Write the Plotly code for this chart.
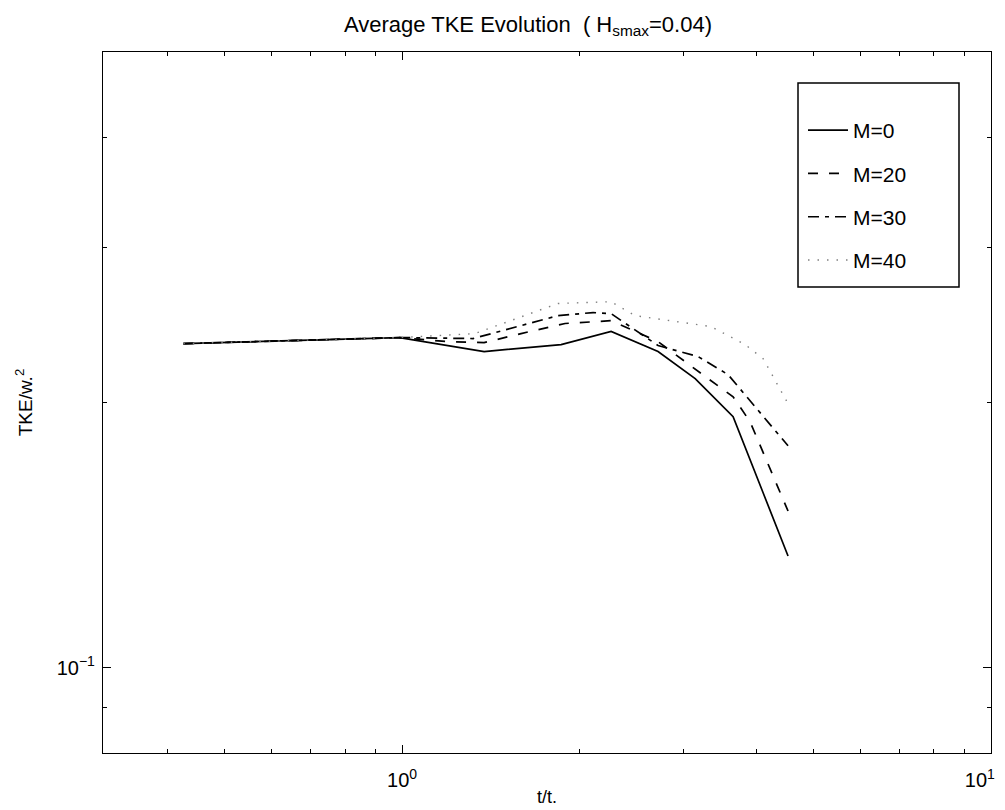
import plotly.graph_objects as go

# ---- data ----
t_m0 = [0.425, 0.99, 1.378, 1.862, 2.264, 2.72, 3.145, 3.648, 4.522]
tke_m0 = [0.2333, 0.2370, 0.2285, 0.2327, 0.2408, 0.2285, 0.2129, 0.1927, 0.1339]

t_m20 = [0.425, 0.99, 1.197, 1.378, 1.592, 1.891, 2.264, 2.72, 3.307, 3.648, 3.898, 4.522]
tke_m20 = [0.2333, 0.2370, 0.2345, 0.2339, 0.2395, 0.2459, 0.2477, 0.2345, 0.2129, 0.2030, 0.1902, 0.1506]

t_m30 = [0.425, 0.99, 1.32, 1.84, 2.11, 2.264, 2.72, 3.182, 3.577, 4.522]
tke_m30 = [0.2333, 0.2370, 0.2364, 0.2510, 0.2530, 0.2523, 0.2321, 0.2255, 0.2151, 0.1786]

t_m40 = [0.425, 0.99, 1.33, 1.84, 2.264, 2.487, 3.346, 3.823, 4.102, 4.522]
tke_m40 = [0.2333, 0.2370, 0.2395, 0.2591, 0.2603, 0.2510, 0.2439, 0.2327, 0.2243, 0.1994]

series_names = ["M=0", "M=20", "M=30", "M=40"]

x_major = [1, 10]
x_major_text = ["10<sup>0</sup>", "10<sup>1</sup>\u00a0\u00a0\u00a0\u00a0"]
x_minor = [0.4, 0.5, 0.6, 0.7, 0.8, 0.9, 2, 3, 4, 5, 6, 7, 8, 9]
y_major = [0.1]
y_major_text = ["10<sup>\u22121</sup>"]
y_minor = [0.09, 0.2, 0.3, 0.4]

FONT = "Liberation Sans, Arial, sans-serif"

styles = [
    dict(color="black", width=1.7, dash="solid"),
    dict(color="black", width=1.7, dash="10px,11px"),
    dict(color="black", width=1.7, dash="11px,6px,4px,6px"),
    dict(color="#808080", width=1.4, dash="1.5px,8px"),
]

fig = go.Figure()
for i, (xs, ys) in enumerate([(t_m0, tke_m0), (t_m20, tke_m20), (t_m30, tke_m30), (t_m40, tke_m40)]):
    fig.add_trace(go.Scatter(
        x=xs, y=ys, mode="lines", name=series_names[i],
        line=styles[i], legendgroup=f"g{i}",
    ))

W, H = 1005, 810
L, R, T, B = 95, 22, 44, 65
pw, ph = W - L - R, H - T - B

def px_x(p):
    return (p - L) / pw

def px_y(p):
    return (H - B - p) / ph

axis_common = dict(
    type="log", showline=True, linecolor="black", linewidth=1.3, mirror="ticks",
    ticks="inside", ticklen=8, tickcolor="black", tickwidth=1,
    showgrid=False, zeroline=False, ticklabeloverflow="allow",
    tickfont=dict(family=FONT, size=20, color="black"),
)

fig.update_layout(
    width=W, height=H,
    margin=dict(l=L, r=R, t=T, b=B, autoexpand=False),
    paper_bgcolor="white", plot_bgcolor="white",
    font=dict(family=FONT, size=18, color="black"),
    title=dict(text="Average TKE Evolution  ( H<sub>smax</sub>=0.04)",
               x=520 / W, xanchor="center", y=1 - 16 / H, yanchor="middle",
               font=dict(family=FONT, size=22, color="black")),
    xaxis=dict(axis_common, range=[-0.508, 1.0], tickmode="array",
               tickvals=x_major, ticktext=x_major_text, ticklabelstandoff=9,
               minor=dict(tickmode="array", tickvals=x_minor, ticks="inside", ticklen=4,
                          tickcolor="black"),
               title=dict(text="t/t.", standoff=0, font=dict(family=FONT, size=18))),
    yaxis=dict(axis_common, range=[-1.09691, -0.30103], tickmode="array",
               tickvals=y_major, ticktext=y_major_text, ticklabelstandoff=3,
               minor=dict(tickmode="array", tickvals=y_minor, ticks="inside", ticklen=4,
                          tickcolor="black"),
               title=dict(text="TKE/w.<sup>2</sup>", standoff=18, font=dict(family=FONT, size=19))),
    legend=dict(x=px_x(795), y=px_y(102), xanchor="left", yanchor="top",
                bgcolor="rgba(0,0,0,0)", borderwidth=0, itemwidth=40,
                tracegroupgap=13, font=dict(family=FONT, size=21, color="black")),
    showlegend=True,
)

# legend frame
fig.add_shape(type="rect", xref="paper", yref="paper",
              x0=px_x(790), x1=px_x(951), y0=px_y(279), y1=px_y(75),
              line=dict(color="black", width=1.5), fillcolor="rgba(0,0,0,0)", layer="above")

fig.write_html("out.html")
